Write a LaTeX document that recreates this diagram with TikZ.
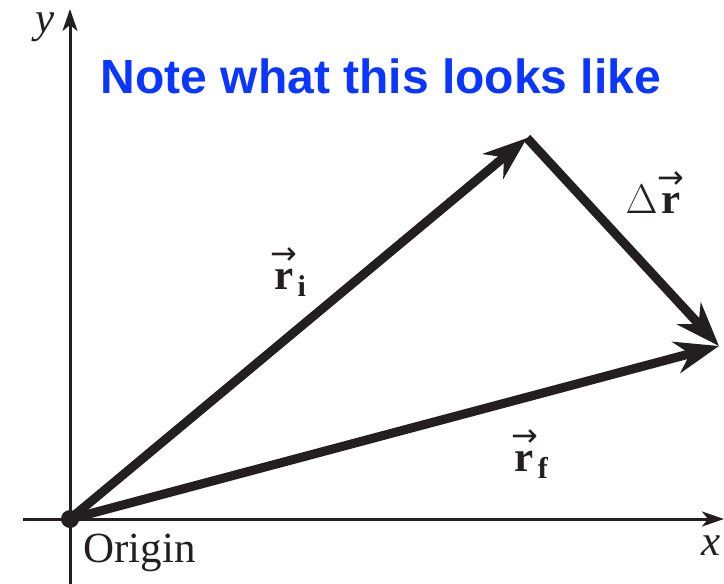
\documentclass[tikz,border=0pt]{standalone}
\usepackage{amsmath}
\usepackage{fontspec}
\setmainfont{Liberation Serif}
\newfontfamily\titlefont{Liberation Sans}
\newfontfamily\arrowfont{DejaVu Sans}
\usepackage{xcolor}
\usetikzlibrary{arrows.meta,positioning}
\definecolor{titleblue}{HTML}{0A36FF}
\definecolor{ink}{HTML}{231F20}
\newcommand{\bvec}[1]{\overset{\raisebox{-3pt}{\arrowfont\fontsize{16}{16}\selectfont →}}{\mathbf{#1}}}

\begin{document}
\begin{tikzpicture}[x=0.5pt,y=-0.5pt,
  every node/.style={font=\fontsize{21.5}{26}\selectfont,inner sep=0pt},
  axisarr/.style={draw=ink,line width=1.5pt,-{Stealth[length=11pt,width=7.5pt,inset=3pt]}},
  vecarr/.style={draw=ink,line width=4.5pt,-{Stealth[length=22pt,width=16pt,inset=7pt]}},
  lbl/.style={text=ink}]
  \useasboundingbox (0,0) rectangle (724,584);
  % axes
  \coordinate (O) at (70,519);
  \coordinate (ybot) at (70,584);
  \coordinate (ytop) at (70,9);
  \coordinate (xleft) at (23,519);
  \coordinate (xright) at (724,519);
  \draw[axisarr] (ybot) -- (ytop);
  \draw[axisarr] (xleft) -- (xright);
  \node[lbl] (ylbl) at (45,27) {\textit{y}};
  \node[lbl] (xlbl) at (711,546) {\textit{x}};
  \node[lbl,anchor=base west] (originlbl) at (83,562) {Origin};
  % position vectors
  \coordinate (ri) at (527,138);
  \coordinate (rf) at (719,346);
  \draw[vecarr] (O) -- (ri);
  \draw[vecarr] (O) -- (rf);
  \draw[vecarr] (ri) -- (rf);
  \fill[ink] (O) circle (4.5pt);
  \node[lbl] (rilbl) at (289,270) {$\bvec{r}_{\mathbf{i}}$};
  \node[lbl] (rflbl) at (530,452) {$\bvec{r}_{\mathbf{f}}$};
  \node[lbl] (drlbl) at (655,190) {$\Delta\bvec{r}$};
  % note
  \node[font=\titlefont\bfseries\fontsize{24}{28}\selectfont,text=titleblue] (note) at (381,76) {Note what this looks like};
\end{tikzpicture}
\end{document}
